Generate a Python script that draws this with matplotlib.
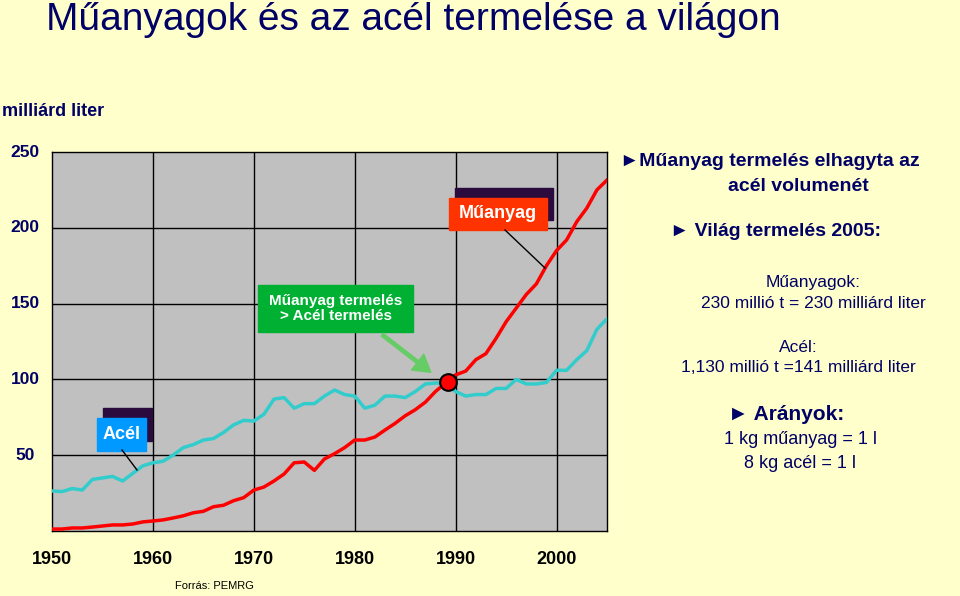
import matplotlib
matplotlib.use("Agg")
import matplotlib.pyplot as plt
from matplotlib.patches import Rectangle, FancyArrowPatch
plt.rcParams["font.family"] = "Liberation Sans"

years = list(range(1950, 2006))
steel = [26.4, 26, 28, 27, 34, 35, 36, 33, 38, 43, 45, 46, 50, 55, 57, 60, 61, 65, 70, 73,
         72.5, 77, 87, 88, 81, 84, 84, 89, 93, 90, 89, 81, 83, 89, 89, 88, 92, 97, 97.6, 97.6,
         92, 89, 90, 90, 94, 94, 100, 97, 97, 98, 106, 106, 113, 119, 133, 140]
plastic = [1.3, 1.3, 2, 2, 2.6, 3.3, 4, 4, 4.6, 6, 6.6, 7.3, 8.6, 10, 12, 13, 16, 17, 20, 22,
           27, 29, 33, 37.6, 45, 45.5, 40, 47.5, 51, 55, 60, 60, 62, 66.6, 71, 76, 80, 85, 92, 97.6,
           103, 105.5, 113, 117, 127, 138, 147, 156, 163, 175, 185, 192, 204, 213, 225, 231.5]
yticks = [50, 100, 150, 200, 250]
xticks = [1950, 1960, 1970, 1980, 1990, 2000]
cross_year, cross_val = 1989.2, 98

W, H = 960, 596
fig = plt.figure(figsize=(9.6, 5.96), dpi=100)
fig.patch.set_facecolor("#FFFFCC")
def fx(x): return x / W
def fy(y): return 1 - y / H

ax = fig.add_axes([fx(52), fy(531), fx(607) - fx(52), fy(152) - fy(531)])
ax.set_facecolor("#C0C0C0")
ax.set_xlim(1950, 2005)
ax.set_ylim(0, 250)
ax.set_xticks([1960, 1970, 1980, 1990, 2000])
ax.set_yticks(yticks[:-1])
ax.grid(True, color="black", lw=1)
ax.tick_params(length=0, labelbottom=False, labelleft=False)
for s in ax.spines.values():
    s.set_color("black"); s.set_linewidth(1)
ax.plot(years, steel, color="#33CCCC", lw=2.5, zorder=3)
ax.plot(years, plastic, color="#FF0000", lw=2.5, zorder=3)
ax.plot([cross_year], [cross_val], "o", ms=12, mfc="#FF0000", mec="black", mew=1.5, zorder=5)

navy = "#000066"
for v in yticks:
    fig.text(fx(25), fy(531 - v * 379 / 250), str(v), ha="center", va="center",
             fontsize=12.5, fontweight="bold", color=navy)
for v in xticks:
    fig.text(fx(52 + (v - 1950) * 555 / 55), fy(560), str(v), ha="center", va="center",
             fontsize=13, fontweight="bold", color="black")

fig.text(fx(46), fy(20), "Műanyagok és az acél termelése a világon", fontsize=28,
         color=navy, va="center", ha="left")
fig.text(fx(2), fy(112), "milliárd liter", fontsize=13, fontweight="bold", color=navy, va="center")
fig.text(fx(175), fy(586), "Forrás: PEMRG", fontsize=8, color="black", va="center")

def box(x0, y0, x1, y1, color, text, fs, shadow=True):
    if shadow:
        fig.patches.append(Rectangle((fx(x0 + 6), fy(y1 - 10)), fx(x1 - x0), fy(y0) - fy(y1),
                                     transform=fig.transFigure, color="#2B0A3D", zorder=4))
    fig.patches.append(Rectangle((fx(x0), fy(y1)), fx(x1 - x0), fy(y0) - fy(y1),
                                 transform=fig.transFigure, color=color, zorder=5))
    fig.text(fx((x0 + x1) / 2), fy((y0 + y1) / 2), text, ha="center", va="center",
             fontsize=fs, fontweight="bold", color="white", zorder=6, linespacing=1.1)

fig.add_artist(plt.Line2D([fx(505), fx(545)], [fy(230), fy(268)], color="black", lw=1, zorder=6))
fig.add_artist(plt.Line2D([fx(122), fx(137)], [fy(450), fy(470)], color="black", lw=1, zorder=6))
box(449, 198, 547, 230, "#FF3300", "Műanyag", 13)
box(97, 418, 146, 451, "#0099FF", "Acél", 13)
box(258, 285, 413, 332, "#00B033", "Műanyag termelés\n> Acél termelés", 11, shadow=False)
fig.patches.append(FancyArrowPatch((fx(380), fy(333)), (fx(433), fy(374)), transform=fig.transFigure,
                                   arrowstyle="simple,head_width=1.2,head_length=1.0",
                                   mutation_scale=12, color="#66CC66", zorder=6))

fig.text(fx(620), fy(162), "►Műanyag termelés elhagyta az", fontsize=14, fontweight="bold", color=navy, va="center")
fig.text(fx(798), fy(186), "acél volumenét", fontsize=14, fontweight="bold", color=navy, va="center", ha="center")
fig.text(fx(670), fy(232), "► Világ termelés 2005:", fontsize=14, fontweight="bold", color=navy, va="center")
fig.text(fx(813), fy(282), "Műanyagok:", fontsize=12.5, color=navy, va="center", ha="center")
fig.text(fx(813), fy(304), "230 millió t = 230 milliárd liter", fontsize=12.5, color=navy, va="center", ha="center")
fig.text(fx(798), fy(347), "Acél:", fontsize=12.5, color=navy, va="center", ha="center")
fig.text(fx(798), fy(368), "1,130 millió t =141 milliárd liter", fontsize=12.5, color=navy, va="center", ha="center")
fig.text(fx(728), fy(414), "► Arányok:", fontsize=15, fontweight="bold", color=navy, va="center")
fig.text(fx(800), fy(440), "1 kg műanyag = 1 l", fontsize=13, color=navy, va="center", ha="center")
fig.text(fx(800), fy(464), "8 kg acél = 1 l", fontsize=13, color=navy, va="center", ha="center")

fig.savefig("out.png", dpi=100, facecolor=fig.get_facecolor())
